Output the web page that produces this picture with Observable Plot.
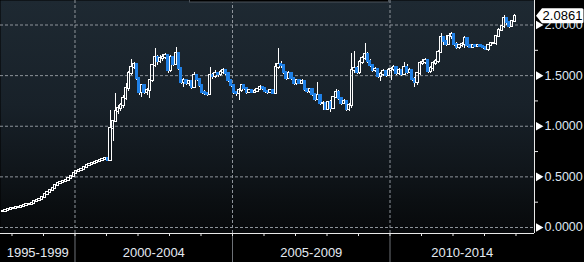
<!DOCTYPE html>
<html><head><meta charset="utf-8">
<script src="https://cdn.jsdelivr.net/npm/d3@7"></script>
<script src="https://cdn.jsdelivr.net/npm/@observablehq/plot@0.6"></script>
<style>html,body{margin:0;padding:0;background:#000;}#chart{width:584px;height:262px;overflow:hidden;}</style>
</head><body><div id="chart"></div>
<script>
// ---- data (monthly candles, open = previous close) ----
const firstMonth = [1997, 9];
const firstOpen = 0.155;
const closes = [
  0.16,0.17,0.18,0.19,0.19,0.20,0.20,0.21,0.22,0.225,
  0.23,0.24,0.26,0.27,0.28,0.30,0.33,0.35,0.37,0.39,
  0.41,0.43,0.44,0.45,0.46,0.48,0.50,0.53,0.55,0.56,
  0.57,0.59,0.61,0.62,0.63,0.64,0.65,0.66,0.67,0.68,
  0.665,
  0.975,1.05,1.15,1.18,1.20,1.27,1.37,1.52,1.58,1.61,
  1.47,1.33,1.40,1.33,1.35,1.45,1.60,1.68,1.64,1.67,
  1.68,1.70,1.55,1.68,1.61,1.72,1.57,1.43,1.45,1.42,
  1.44,1.38,1.50,1.46,1.40,1.33,1.32,1.31,1.50,1.49,
  1.52,1.51,1.53,1.55,1.52,1.45,1.40,1.33,1.32,1.35,
  1.40,1.37,1.33,1.35,1.33,1.34,1.36,1.38,1.37,1.34,
  1.33,1.35,1.32,1.58,1.61,1.60,1.53,1.47,1.52,1.47,
  1.42,1.45,1.42,1.44,1.36,1.34,1.36,1.31,1.26,1.30,
  1.22,1.22,1.17,1.23,1.18,1.28,1.33,1.27,1.22,1.24,
  1.17,1.20,1.55,1.57,1.53,1.63,1.67,1.71,1.64,1.60,
  1.55,1.56,1.49,1.51,1.54,1.50,1.55,1.56,1.58,1.52,
  1.55,1.51,1.58,1.53,1.55,1.46,1.43,1.52,1.62,1.63,
  1.65,1.54,1.57,1.62,1.64,1.73,1.88,1.84,1.81,1.89,
  1.91,1.81,1.78,1.80,1.81,1.87,1.80,1.78,1.80,1.79,
  1.80,1.79,1.78,1.76,1.80,1.82,1.82,1.89,1.95,1.99,
  2.06,2.02,1.99,2.03,2.0861
];
const highs = [
  0.165,0.175,0.185,0.195,0.20,0.205,0.205,0.215,0.225,0.23,
  0.235,0.25,0.265,0.275,0.29,0.31,0.335,0.355,0.375,0.395,
  0.415,0.435,0.445,0.455,0.47,0.485,0.51,0.535,0.555,0.565,
  0.58,0.595,0.615,0.625,0.635,0.645,0.655,0.665,0.675,0.685,
  0.68,
  1.16,1.06,1.32,1.20,1.22,1.30,1.42,1.54,1.66,1.63,
  1.62,1.44,1.41,1.41,1.37,1.46,1.61,1.77,1.70,1.70,
  1.71,1.72,1.71,1.70,1.69,1.78,1.73,1.58,1.47,1.46,
  1.45,1.44,1.53,1.51,1.47,1.41,1.35,1.33,1.58,1.52,
  1.55,1.53,1.55,1.57,1.56,1.53,1.46,1.41,1.34,1.37,
  1.41,1.41,1.38,1.36,1.36,1.36,1.37,1.40,1.39,1.38,
  1.35,1.36,1.36,1.62,1.77,1.64,1.61,1.54,1.54,1.53,
  1.48,1.46,1.46,1.46,1.45,1.37,1.37,1.37,1.32,1.43,
  1.31,1.24,1.23,1.24,1.25,1.29,1.36,1.35,1.28,1.26,
  1.25,1.22,1.72,1.74,1.59,1.65,1.69,1.82,1.73,1.66,
  1.61,1.58,1.57,1.53,1.56,1.55,1.57,1.58,1.60,1.59,
  1.57,1.56,1.63,1.61,1.57,1.56,1.48,1.53,1.64,1.66,
  1.67,1.66,1.59,1.64,1.66,1.75,1.92,1.89,1.90,1.92,
  1.93,1.92,1.83,1.81,1.83,1.89,1.88,1.81,1.81,1.81,
  1.81,1.81,1.80,1.79,1.81,1.83,1.83,1.90,1.97,2.00,
  2.09,2.07,2.03,2.04,2.10
];
const lows = [
  0.15,0.155,0.165,0.175,0.185,0.185,0.195,0.195,0.205,0.215,
  0.22,0.225,0.235,0.255,0.265,0.275,0.295,0.325,0.345,0.365,
  0.385,0.405,0.425,0.435,0.445,0.455,0.475,0.495,0.525,0.545,
  0.555,0.565,0.585,0.605,0.615,0.625,0.635,0.645,0.655,0.665,
  0.66,
  0.66,0.85,1.04,1.12,1.15,1.18,1.25,1.34,1.50,1.56,
  1.45,1.30,1.28,1.31,1.30,1.27,1.43,1.58,1.60,1.62,
  1.64,1.66,1.52,1.53,1.59,1.60,1.55,1.41,1.38,1.40,
  1.39,1.36,1.37,1.44,1.38,1.31,1.30,1.29,1.30,1.46,
  1.47,1.48,1.49,1.51,1.50,1.43,1.38,1.31,1.29,1.25,
  1.33,1.35,1.31,1.32,1.32,1.32,1.33,1.35,1.35,1.32,
  1.31,1.32,1.31,1.31,1.56,1.57,1.51,1.45,1.46,1.45,
  1.40,1.40,1.41,1.41,1.34,1.32,1.32,1.29,1.24,1.25,
  1.20,1.16,1.16,1.16,1.14,1.17,1.27,1.25,1.20,1.21,
  1.15,1.15,1.18,1.52,1.51,1.51,1.61,1.65,1.62,1.58,
  1.53,1.53,1.47,1.44,1.49,1.48,1.49,1.45,1.54,1.50,
  1.50,1.49,1.50,1.51,1.52,1.44,1.38,1.40,1.50,1.60,
  1.61,1.52,1.52,1.54,1.60,1.62,1.72,1.80,1.79,1.80,
  1.86,1.79,1.76,1.76,1.78,1.77,1.78,1.77,1.77,1.78,
  1.78,1.78,1.76,1.75,1.74,1.79,1.81,1.80,1.88,1.94,
  1.97,2.00,1.97,1.98,2.02
];
const yTicks = [0, 0.5, 1, 1.5, 2];
const yMinorTicks = [0.25, 0.75, 1.25, 1.75];
const yearTicks = [1998,1999,2000,2001,2002,2003,2004,2005,2006,2007,2008,2009,2010,2011,2012,2013,2014];
const periodLabels = ["1995-1999", "2000-2004", "2005-2009", "2010-2014"];
const periodStarts = [1995, 2000, 2005, 2010];
const periodEnds = [2000, 2005, 2010, 2015];
const separatorYears = [2000, 2005, 2010];
const xDomain = [1997.635, 2014.587];
const yDomain = [-0.0593, 2.242];

// ---- derived table ----
const hw = 0.034;
const candles = closes.map((c, i) => {
  const o = i === 0 ? firstOpen : closes[i - 1];
  const t = firstMonth[0] + (firstMonth[1] - 1 + i + 0.5) / 12;
  const top = Math.max(o, c), bot = Math.min(o, c);
  return {t, o, c, top, bot, h: Math.max(highs[i], top), l: Math.min(lows[i], bot), up: c >= o};
});
const periods = periodLabels.map((label, i) => ({
  label,
  mid: (Math.max(periodStarts[i], xDomain[0]) + Math.min(periodEnds[i], xDomain[1])) / 2
}));
const BLUE = "#1f80e6";
const GRID = "#8e949b";

const plot = Plot.plot({
  width: 584, height: 262,
  marginLeft: 0, marginRight: 50, marginTop: 0, marginBottom: 29,
  style: {background: "#000", fontFamily: "'Liberation Sans', Arial, sans-serif", color: "#dfe7f2"},
  x: {type: "linear", domain: xDomain, axis: null},
  y: {domain: yDomain, axis: null},
  marks: [
    Plot.frame({fill: "url(#bgGrad)", stroke: null}),
    Plot.ruleY(yTicks, {stroke: GRID, strokeDasharray: "3,2", strokeWidth: 1}),
    Plot.ruleX(separatorYears, {stroke: GRID, strokeDasharray: "3,2", strokeWidth: 1}),
    Plot.ruleX(separatorYears, {stroke: "#6d7177", insetTop: 233, insetBottom: -29}),
    // wicks
    Plot.ruleX(candles, {x: "t", y1: "top", y2: "h", stroke: "#fff", strokeWidth: 1, shapeRendering: "crispEdges"}),
    Plot.ruleX(candles, {x: "t", y1: "l", y2: "bot", stroke: "#fff", strokeWidth: 1, shapeRendering: "crispEdges"}),
    // bodies
    Plot.rect(candles, {
      x1: d => d.t - hw, x2: d => d.t + hw, y1: "bot", y2: "top",
      insetTop: -0.5, insetBottom: -0.5,
      fill: d => d.up ? "none" : BLUE,
      stroke: d => d.up ? "#fff" : BLUE,
      strokeWidth: 1, shapeRendering: "crispEdges"
    }),
    // axis lines
    Plot.ruleY([yDomain[0]], {stroke: "#e8e8e8"}),
    Plot.ruleX([xDomain[1]], {stroke: "#e8e8e8"}),
    Plot.axisX(yearTicks, {anchor: "bottom", tickSize: 3, tickFormat: () => "", stroke: "#e8e8e8"}),
    Plot.axisY(yMinorTicks, {anchor: "right", tickSize: 3, tickFormat: () => "", stroke: "#e8e8e8"}),
    Plot.axisY(yTicks, {anchor: "right", tickSize: 0, tickPadding: 10, tickFormat: d3.format(".4f"), fill: "#dfe7f2", fontSize: 12.5}),
    Plot.dot(yTicks, {y: d => d, frameAnchor: "right", symbol: "triangle", rotate: 90, r: 3.2, fill: "#fff", stroke: null, dx: 4}),
    Plot.text(periods, {x: "mid", text: "label", frameAnchor: "bottom", dy: 23, fill: "#e4eaf2", fontSize: 13})
  ]
});

// gradient background definition + decorations
const ns = "http://www.w3.org/2000/svg";
const defs = document.createElementNS(ns, "defs");
defs.innerHTML = `<linearGradient id="bgGrad" x1="0" y1="0" x2="0" y2="1">
  <stop offset="0" stop-color="#1e2932"/>
  <stop offset="0.45" stop-color="#182129"/>
  <stop offset="0.72" stop-color="#10161b"/>
  <stop offset="0.86" stop-color="#0b0f12"/>
  <stop offset="1" stop-color="#07090b"/>
</linearGradient>`;
plot.insertBefore(defs, plot.firstChild);

const bar = document.createElementNS(ns, "rect");
bar.setAttribute("x", 189.5); bar.setAttribute("y", -1);
bar.setAttribute("width", 199); bar.setAttribute("height", 3);
bar.setAttribute("fill", "#000"); bar.setAttribute("stroke", "#4a525a");
plot.appendChild(bar);

// last-value tag
const last = closes[closes.length - 1];
const ly = plot.scale("y").apply(last);
const lx = plot.scale("x").apply(xDomain[1]);
const tag = document.createElementNS(ns, "g");
tag.innerHTML = `<path d="M${lx + 2},${ly} L${lx + 8},${ly - 7.5} H${lx + 48} Q${lx + 49.5},${ly - 7.5} ${lx + 49.5},${ly - 6} V${ly + 6} Q${lx + 49.5},${ly + 7.5} ${lx + 48},${ly + 7.5} H${lx + 8} Z" fill="#fff"/>
<text x="${lx + 28.5}" y="${ly}" dy="0.35em" text-anchor="middle" fill="#000" font-size="13" font-family="'Liberation Sans', Arial, sans-serif">${d3.format(".4f")(last)}</text>`;
plot.appendChild(tag);

document.getElementById("chart").appendChild(plot);
</script></body></html>
